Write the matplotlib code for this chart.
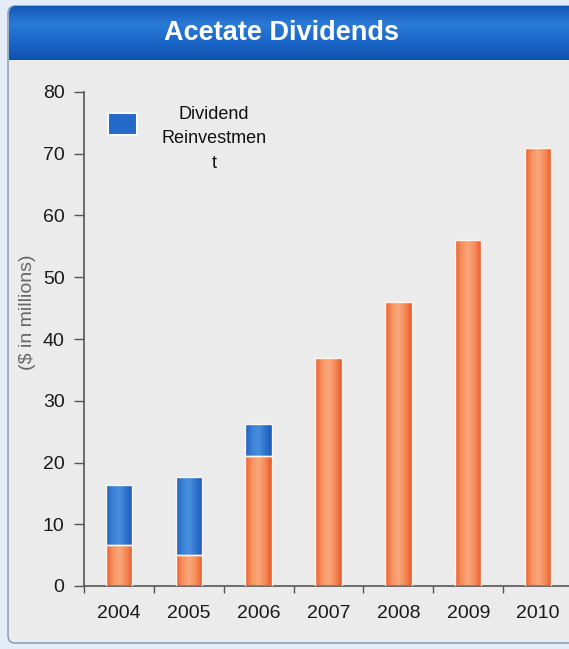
import numpy as np
import matplotlib
matplotlib.use("Agg")
import matplotlib.pyplot as plt
from matplotlib.patches import FancyBboxPatch, Rectangle
from matplotlib.colors import LinearSegmentedColormap

years = ["2004", "2005", "2006", "2007", "2008", "2009", "2010"]
dividends = [6.6, 5.0, 21.0, 37.0, 46.0, 56.0, 71.0]
reinvestment = [9.7, 12.6, 5.2, 0.0, 0.0, 0.0, 0.0]
yticks = [0, 10, 20, 30, 40, 50, 60, 70, 80]
title = "Acetate Dividends"
ylabel = "($ in millions)"
legend_label = "Dividend\nReinvestmen\nt"

plt.rcParams['font.family'] = ['Liberation Sans', 'DejaVu Sans']

W, H = 569, 649
fig = plt.figure(figsize=(W / 100, H / 100), dpi=100)
fig.patch.set_facecolor("#e4edf7")

def fx(px):
    return px / W

def fy(py):
    return 1 - py / H

# outer frame
frame = FancyBboxPatch((fx(8), fy(643)), fx(600) - fx(8), fy(6) - fy(643),
                       boxstyle="round,pad=0,rounding_size=0.012",
                       transform=fig.transFigure, facecolor="#ebebeb",
                       edgecolor="#8ea4bd", linewidth=1.2, zorder=-2)
fig.patches.append(frame)

# title band with vertical gradient, rounded top corners
band_ax = fig.add_axes([fx(9), fy(60), 1 - fx(9), fy(6) - fy(60)])
band_ax.set_axis_off()
band_ax.set_zorder(1)
grad = np.linspace(0, 1, 100).reshape(-1, 1)
band_cmap = LinearSegmentedColormap.from_list("band", ["#1458b8", "#2a7ad6", "#1a66c8", "#0f52ae"])
band_im = band_ax.imshow(grad, aspect="auto", cmap=band_cmap, extent=[0, 1, 0, 1], origin="upper")
band_ax.set_xlim(0, 1)
band_ax.set_ylim(0, 1)
band_clip = FancyBboxPatch((fx(9), fy(75)), fx(620) - fx(9), fy(6) - fy(75),
                           boxstyle="round,pad=0,rounding_size=0.012",
                           transform=fig.transFigure, facecolor="none", edgecolor="none")
band_im.set_clip_path(band_clip)
fig.text(fx(282), fy(33), title, color="white", fontsize=19.5, fontweight="bold",
         ha="center", va="center", zorder=10)

# main axes
left_px, right_px, top_px, bottom_px = 84, 573, 92, 586
ax = fig.add_axes([fx(left_px), fy(bottom_px), fx(right_px) - fx(left_px), fy(top_px) - fy(bottom_px)])
ax.set_facecolor("none")
ax.set_zorder(2)
x = np.arange(len(years))

bw = 0.38
orange_cmap = LinearSegmentedColormap.from_list("or", ["#ec6034", "#f7925c", "#f9a87e", "#f58a56", "#e8582c"])
blue_cmap = LinearSegmentedColormap.from_list("bl", ["#1d5fc0", "#3a82d6", "#4a8ede", "#2e74cc", "#1a58b8"])
hgrad = np.linspace(0, 1, 64).reshape(1, -1)

def gradient_bars(bars, cmap):
    for b in bars:
        if b.get_height() <= 0:
            continue
        x0, y0 = b.get_x(), b.get_y()
        im = ax.imshow(hgrad, aspect="auto", cmap=cmap,
                       extent=[x0, x0 + b.get_width(), y0, y0 + b.get_height()],
                       zorder=2, interpolation="bicubic")
        im.set_clip_path(b)

b1 = ax.bar(x, dividends, width=bw, color="#f58a56", edgecolor="#fff3e6", linewidth=1.0, zorder=2)
b2 = ax.bar(x, reinvestment, width=bw, bottom=dividends, color="#2e74cc", edgecolor="#eef4ff",
            linewidth=1.0, zorder=2)
gradient_bars(b1, orange_cmap)
gradient_bars(b2, blue_cmap)
for b in list(b1) + list(b2):
    if b.get_height() > 0:
        r = Rectangle((b.get_x(), b.get_y()), b.get_width(), b.get_height(), fill=False,
                      edgecolor="#fff4ea", linewidth=1.0, zorder=3)
        ax.add_patch(r)
ax.set_xlim(-0.5, len(years) - 0.5)
ax.set_ylim(0, 80)

for s in ["top", "right"]:
    ax.spines[s].set_visible(False)
ax.spines["left"].set_color("#555555")
ax.spines["bottom"].set_color("#555555")
ax.spines["left"].set_linewidth(1.2)
ax.spines["bottom"].set_linewidth(1.2)

ax.set_yticks(yticks)
ax.set_yticklabels([str(v) for v in yticks])
ax.tick_params(axis="y", direction="out", length=7, width=1, color="#555555",
               labelsize=14, labelcolor="#1a1a1a", pad=7)
ax.set_xticks(x)
ax.set_xticklabels(years)
ax.tick_params(axis="x", which="major", length=0, labelsize=14, labelcolor="#1a1a1a", pad=14)
ax.set_xticks(np.arange(-0.5, len(years), 1.0), minor=True)
ax.tick_params(axis="x", which="minor", direction="out", length=5, width=1, color="#555555")

fig.text(fx(28), fy(312), ylabel, rotation=90, color="#666666", fontsize=14,
         ha="center", va="center")

# legend
leg_sq = FancyBboxPatch((fx(108), fy(135)), fx(137) - fx(108), fy(113) - fy(135),
                        boxstyle="square,pad=0", transform=fig.transFigure,
                        facecolor="#2468c8", edgecolor="#f4f8ff", linewidth=1.5, zorder=5)
fig.patches.append(leg_sq)
fig.text(fx(214), fy(139), legend_label, fontsize=13, color="#111111",
         ha="center", va="center", linespacing=1.6)

fig.savefig("out.png", dpi=100, facecolor=fig.get_facecolor())
